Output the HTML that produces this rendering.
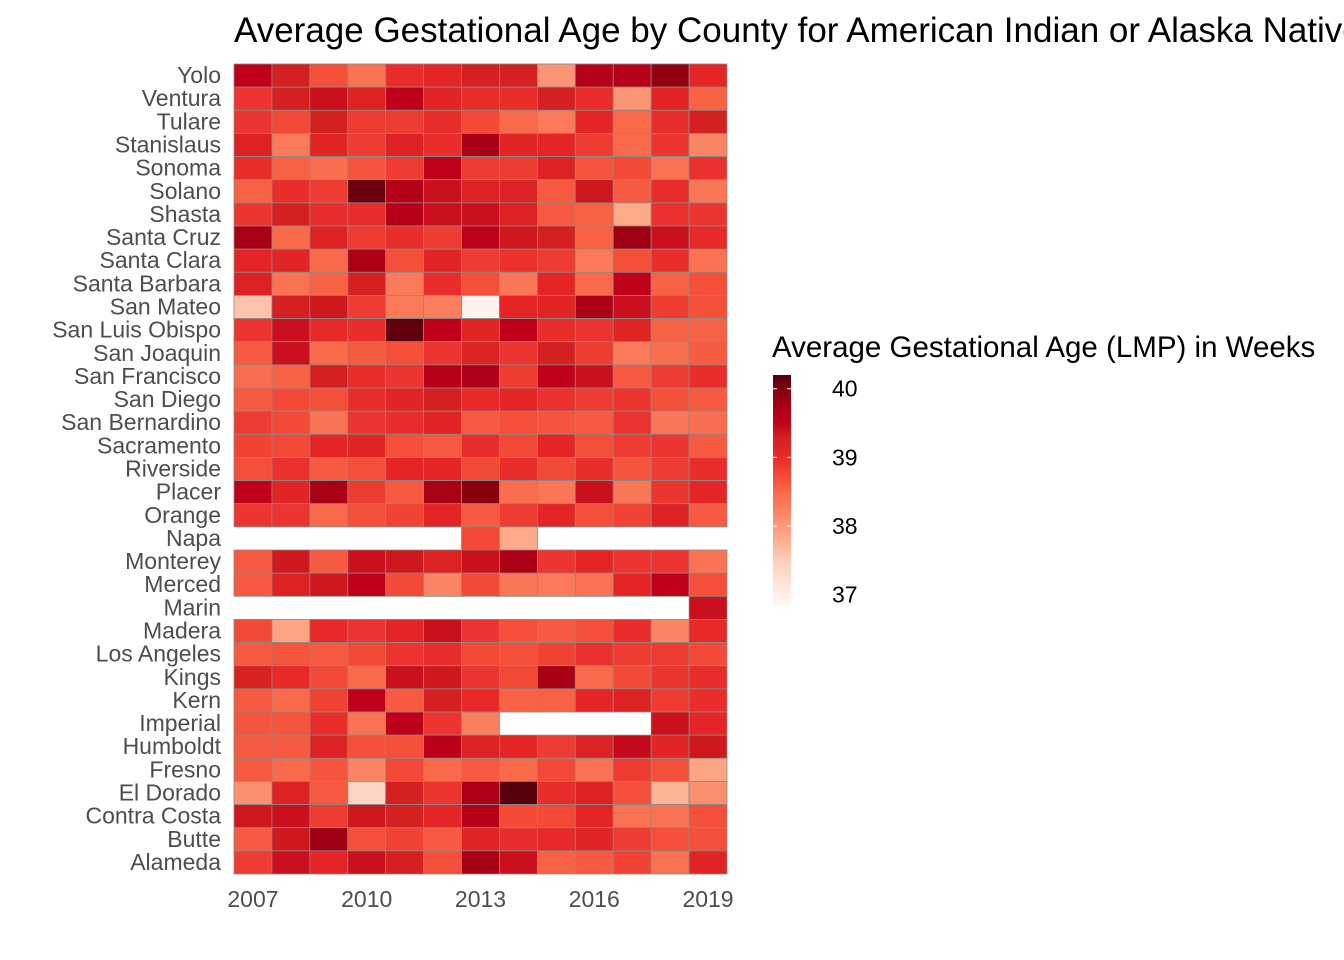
<!DOCTYPE html>
<html><head><meta charset="utf-8"><style>
html,body{margin:0;padding:0;background:#fff;overflow:hidden}
svg{display:block;font-family:"Liberation Sans",Arial,sans-serif}
</style></head><body>
<svg id="chart" width="1344" height="960" viewBox="0 0 1344 960">
<text x="234" y="42" font-size="35" fill="#000">Average Gestational Age by County for American Indian or Alaska Native Women</text>
<g id="cells"></g>
<g id="ylabels"></g>
<g id="xlabels"></g>
<g id="legend">
<text x="772" y="357" font-size="29.5" fill="#000">Average Gestational Age (LMP) in Weeks</text>
</g>
</svg>
<script>
const years = [2007,2008,2009,2010,2011,2012,2013,2014,2015,2016,2017,2018,2019];
const xTickLabels = [2007,2010,2013,2016,2019];
const counties = ["Yolo","Ventura","Tulare","Stanislaus","Sonoma","Solano","Shasta","Santa Cruz","Santa Clara","Santa Barbara","San Mateo","San Luis Obispo","San Joaquin","San Francisco","San Diego","San Bernardino","Sacramento","Riverside","Placer","Orange","Napa","Monterey","Merced","Marin","Madera","Los Angeles","Kings","Kern","Imperial","Humboldt","Fresno","El Dorado","Contra Costa","Butte","Alameda"];
const legendTicks = [37,38,39,40];
const N = null;
const vYolo=[39.5,39.3,38.7,38.4,39.0,39.1,39.3,39.3,38.05,39.6,39.6,39.9,39.1];
const vVentura=[38.9,39.3,39.4,39.2,39.5,39.15,39.0,39.0,39.3,39.0,38.05,39.15,38.55];
const vTulare=[38.9,38.75,39.3,38.85,38.85,39.0,38.75,38.5,38.3,39.1,38.5,39.0,39.3];
const vStanislaus=[39.2,38.3,39.15,38.85,39.2,39.0,39.75,39.15,39.1,38.85,38.5,38.9,38.2];
const vSonoma=[39.0,38.55,38.45,38.65,38.85,39.5,38.85,38.85,39.2,38.65,38.75,38.4,38.95];
const vSolano=[38.55,39.0,38.85,40.1,39.6,39.4,39.2,39.2,38.6,39.35,38.6,39.0,38.35];
const vShasta=[38.9,39.3,39.0,39.0,39.6,39.4,39.4,39.2,38.6,38.55,37.85,38.95,38.9];
const vSantaCruz=[39.75,38.5,39.2,38.85,39.0,38.85,39.55,39.35,39.3,38.55,39.8,39.4,39.05];
const vSantaClara=[39.1,39.15,38.5,39.7,38.7,39.15,38.85,38.95,38.85,38.3,38.7,39.0,38.4];
const vSantaBarbara=[39.2,38.4,38.55,39.3,38.3,39.0,38.7,38.35,39.1,38.5,39.5,38.55,38.7];
const vSanMateo=[37.6,39.3,39.35,38.85,38.3,38.25,36.95,39.1,39.15,39.7,39.4,38.85,38.7];
const vSanLuisObispo=[38.9,39.4,39.05,39.0,40.15,39.5,39.15,39.5,39.0,38.9,39.15,38.55,38.55];
const vSanJoaquin=[38.6,39.4,38.5,38.6,38.7,38.9,39.2,38.9,39.3,38.85,38.3,38.45,38.6];
const vSanFrancisco=[38.45,38.55,39.3,39.0,38.9,39.6,39.7,38.85,39.5,39.4,38.6,38.85,39.0];
const vSanDiego=[38.6,38.75,38.7,39.0,39.15,39.3,39.05,39.1,38.95,38.85,38.9,38.7,38.6];
const vSanBernardino=[38.85,38.75,38.4,38.9,39.0,39.15,38.6,38.7,38.65,38.6,38.9,38.35,38.45];
const vSacramento=[38.8,38.75,39.1,39.15,38.7,38.6,39.0,38.75,39.1,38.7,38.85,38.9,38.6];
const vRiverside=[38.7,38.95,38.6,38.7,39.1,39.1,38.75,39.0,38.75,39.0,38.65,38.85,39.0];
const vPlacer=[39.5,39.15,39.75,38.85,38.6,39.75,39.95,38.45,38.35,39.4,38.35,38.9,39.1];
const vOrange=[38.9,38.9,38.5,38.7,38.8,39.1,38.6,38.85,39.1,38.7,38.8,39.2,38.6];
const vNapa=[N,N,N,N,N,N,38.75,37.85,N,N,N,N,N];
const vMonterey=[38.6,39.35,38.6,39.4,39.35,39.2,39.4,39.7,38.9,39.1,38.9,38.9,38.4];
const vMerced=[38.6,39.2,39.35,39.5,38.75,38.2,38.75,38.35,38.3,38.4,39.1,39.5,38.7];
const vMarin=[N,N,N,N,N,N,N,N,N,N,N,N,39.4];
const vMadera=[38.75,37.9,39.05,38.9,39.1,39.4,38.9,38.7,38.6,38.7,39.0,38.2,39.05];
const vLosAngeles=[38.6,38.65,38.6,38.75,38.9,39.0,38.75,38.7,38.8,38.95,38.85,38.85,38.75];
const vKings=[39.25,39.05,38.75,38.5,39.4,39.35,38.9,38.75,39.75,38.5,38.75,38.9,39.0];
const vKern=[38.6,38.5,38.8,39.5,38.6,39.3,39.05,38.55,38.55,39.1,39.2,38.85,39.0];
const vImperial=[38.65,38.65,39.0,38.4,39.5,38.9,38.25,N,N,N,N,39.4,39.1];
const vHumboldt=[38.6,38.6,39.2,38.7,38.7,39.55,39.2,39.1,38.85,39.2,39.45,39.15,39.35];
const vFresno=[38.6,38.5,38.65,38.2,38.75,38.5,38.6,38.5,38.75,38.4,38.85,38.7,37.9];
const vElDorado=[38.1,39.2,38.6,37.4,39.3,38.9,39.7,40.2,39.0,39.2,38.7,37.75,38.1];
const vContraCosta=[39.35,39.4,38.85,39.35,39.3,39.1,39.6,38.75,38.75,39.1,38.4,38.4,38.7];
const vButte=[38.6,39.35,39.8,38.7,38.8,38.6,39.15,39.0,39.05,39.15,38.85,38.7,38.7];
const vAlameda=[38.85,39.4,39.1,39.4,39.3,38.7,39.75,39.4,38.55,38.6,38.8,38.4,39.15];
const values=[vYolo,vVentura,vTulare,vStanislaus,vSonoma,vSolano,vShasta,vSantaCruz,vSantaClara,vSantaBarbara,vSanMateo,vSanLuisObispo,vSanJoaquin,vSanFrancisco,vSanDiego,vSanBernardino,vSacramento,vRiverside,vPlacer,vOrange,vNapa,vMonterey,vMerced,vMarin,vMadera,vLosAngeles,vKings,vKern,vImperial,vHumboldt,vFresno,vElDorado,vContraCosta,vButte,vAlameda];

const NS="http://www.w3.org/2000/svg";
const X0=234,X1=727,Y0=64,Y1=874;
const cw=(X1-X0)/years.length, rh=(Y1-Y0)/counties.length;
const xScale=i=>X0+i*cw;
const yScale=j=>Y0+j*rh;
const stops=[[36.9,"#fff5f0"],[37.4,"#fdd5c5"],[37.85,"#fcaa88"],[38.1,"#fa9070"],[38.3,"#fa7a5a"],[38.5,"#f86a4a"],[38.6,"#f65a40"],[38.75,"#f24a36"],[38.9,"#ec3530"],[39.1,"#e52525"],[39.3,"#d42020"],[39.5,"#c0001a"],[39.75,"#a80015"],[40.0,"#80000f"],[40.2,"#55000c"]];
function hex2rgb(h){return [1,3,5].map(i=>parseInt(h.substr(i,2),16));}
function color(v){
  if(v<=stops[0][0])return stops[0][1];
  for(let k=1;k<stops.length;k++){
    if(v<=stops[k][0]){
      const t=(v-stops[k-1][0])/(stops[k][0]-stops[k-1][0]);
      const a=hex2rgb(stops[k-1][1]),b=hex2rgb(stops[k][1]);
      return "rgb("+a.map((c,i)=>Math.round(c+(b[i]-c)*t)).join(",")+")";
    }
  }
  return stops[stops.length-1][1];
}
const cells=document.getElementById("cells");
values.forEach((row,j)=>{
  row.forEach((v,i)=>{
    if(v===null)return;
    const r=document.createElementNS(NS,"rect");
    r.setAttribute("x",xScale(i));r.setAttribute("y",yScale(j));
    r.setAttribute("width",cw);r.setAttribute("height",rh);
    r.setAttribute("fill",color(v));r.setAttribute("stroke","#8a8a8a");r.setAttribute("stroke-width","0.8");
    
    
    cells.appendChild(r);
  });
});
const yl=document.getElementById("ylabels");
counties.forEach((c,j)=>{
  const t=document.createElementNS(NS,"text");
  t.setAttribute("x",221);t.setAttribute("y",yScale(j)+rh/2+7.5);
  t.setAttribute("text-anchor","end");t.setAttribute("font-size","23");t.setAttribute("fill","#4d4d4d");
  t.textContent=c;
  
  
  yl.appendChild(t);
});
const xl=document.getElementById("xlabels");
xTickLabels.forEach(y=>{
  const i=years.indexOf(y);
  const t=document.createElementNS(NS,"text");
  t.setAttribute("x",xScale(i)+cw/2);t.setAttribute("y",907);
  t.setAttribute("text-anchor","middle");t.setAttribute("font-size","23");t.setAttribute("fill","#4d4d4d");
  t.textContent=y;
  
  
  xl.appendChild(t);
});
const lg=document.getElementById("legend");
const LT=375,LB=605,LVT=40.2,LVB=36.85;
const ly=v=>LB-(v-LVB)/(LVT-LVB)*(LB-LT);
const defs=document.createElementNS(NS,"defs");
const grad=document.createElementNS(NS,"linearGradient");
grad.setAttribute("id","lg");grad.setAttribute("x1","0");grad.setAttribute("y1","1");grad.setAttribute("x2","0");grad.setAttribute("y2","0");
for(let k=0;k<=40;k++){
  const v=LVB+(LVT-LVB)*k/40;
  const s=document.createElementNS(NS,"stop");
  s.setAttribute("offset",(k/40));s.setAttribute("stop-color",color(v));
  grad.appendChild(s);
}
defs.appendChild(grad);lg.appendChild(defs);
const bar=document.createElementNS(NS,"rect");
bar.setAttribute("x",773);bar.setAttribute("y",LT);bar.setAttribute("width",18);bar.setAttribute("height",LB-LT);bar.setAttribute("fill","url(#lg)");


lg.appendChild(bar);
legendTicks.forEach(v=>{
  const y=ly(v);
  [773,787].forEach(x=>{
    const l=document.createElementNS(NS,"line");
    l.setAttribute("x1",x);l.setAttribute("x2",x+4);l.setAttribute("y1",y);l.setAttribute("y2",y);
    l.setAttribute("stroke","#fff");l.setAttribute("stroke-width","1");
    
    
    lg.appendChild(l);
  });
  const t=document.createElementNS(NS,"text");
  t.setAttribute("x",832);t.setAttribute("y",y+8);t.setAttribute("font-size","23");t.setAttribute("fill","#000");
  t.textContent=v;
  
  
  lg.appendChild(t);
});
</script>
</body></html>
